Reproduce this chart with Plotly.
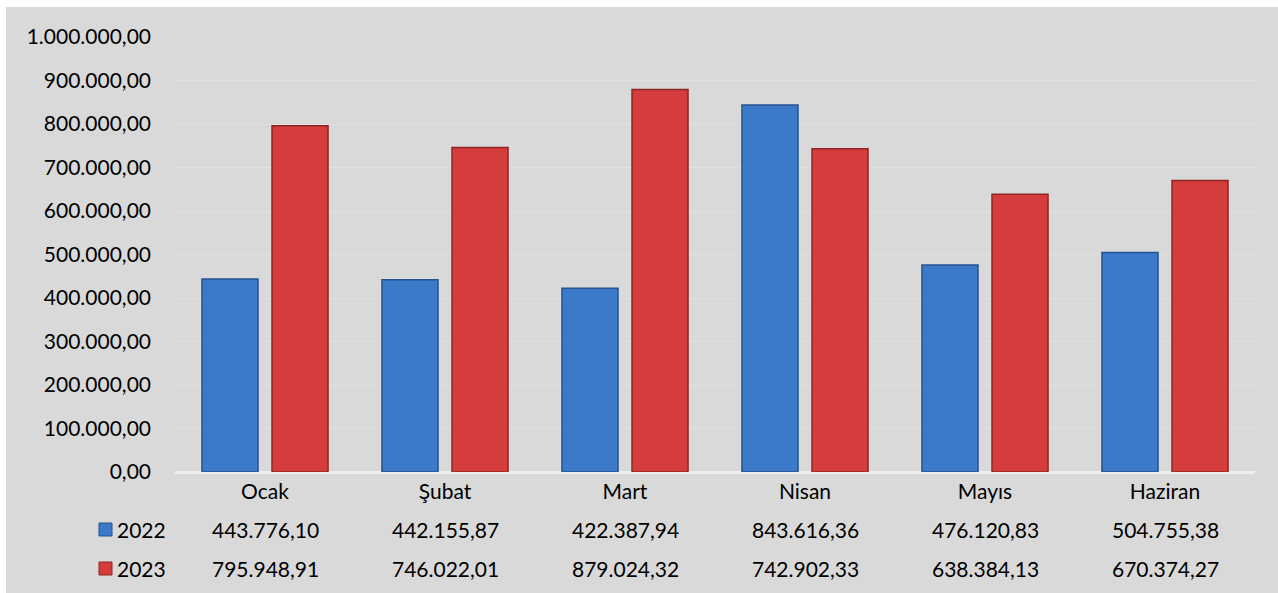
import plotly.graph_objects as go

months = ["Ocak", "Şubat", "Mart", "Nisan", "Mayıs", "Haziran"]
series_names = ["2022", "2023"]
values_2022 = [443776.10, 442155.87, 422387.94, 843616.36, 476120.83, 504755.38]
values_2023 = [795948.91, 746022.01, 879024.32, 742902.33, 638384.13, 670374.27]
y_ticks = [0, 100000, 200000, 300000, 400000, 500000, 600000, 700000, 800000, 900000, 1000000]

FONT = "Lato"
FS = 21
W, H = 1278, 593
L, R, T, B = 175, 23, 37, 121
PW, PH = W - L - R, H - T - B

def tr_fmt(v):
    s = f"{v:,.2f}"
    return s.replace(",", "X").replace(".", ",").replace("X", ".")

def px_x(px):
    return (px - L) / PW

def px_y(py):
    return (H - B - py) / PH

colors = {"2022": ("#3b79c9", "#26528f"), "2023": ("#d53d3d", "#902424")}

fig = go.Figure()
for name, vals in zip(series_names, [values_2022, values_2023]):
    fill, edge = colors[name]
    fig.add_trace(go.Bar(
        x=months, y=vals, name=name,
        marker=dict(color=fill, line=dict(color=edge, width=1.5)),
        showlegend=False, hoverinfo="x+y",
    ))

shapes = [
    dict(type="rect", xref="paper", yref="paper",
         x0=px_x(6), x1=px_x(1280), y0=px_y(595), y1=px_y(7),
         fillcolor="#d9d9d9", line=dict(width=0), layer="below"),
]
annotations = []
row_y = {"2022": 529, "2023": 568}
for name, vals in zip(series_names, [values_2022, values_2023]):
    fill, edge = colors[name]
    yc = row_y[name]
    shapes.append(dict(type="rect", xref="paper", yref="paper",
                       x0=px_x(99), x1=px_x(112), y0=px_y(yc + 7), y1=px_y(yc - 6),
                       fillcolor=fill, line=dict(color=edge, width=1)))
    annotations.append(dict(xref="paper", yref="paper", x=px_x(115), y=px_y(yc),
                            xanchor="left", yanchor="middle", showarrow=False,
                            text=name, font=dict(family=FONT, size=FS, color="#000")))
    for m, v in zip(months, vals):
        annotations.append(dict(xref="x", yref="paper", x=m, y=px_y(yc),
                                xanchor="center", yanchor="middle", showarrow=False,
                                text=tr_fmt(v), font=dict(family=FONT, size=FS, color="#000")))

fig.update_layout(
    width=W, height=H,
    margin=dict(l=L, r=R, t=T, b=B, autoexpand=False),
    paper_bgcolor="white", plot_bgcolor="rgba(0,0,0,0)",
    separators=",.",
    barmode="group", bargap=0.222, bargroupgap=0.2,
    font=dict(family=FONT, size=FS, color="#000"),
    shapes=shapes, annotations=annotations,
    xaxis=dict(showgrid=False, showline=False, zeroline=False, ticklabelstandoff=5,
               tickfont=dict(family=FONT, size=FS, color="#000"), ticks=""),
    yaxis=dict(range=[0, 1000000], tickvals=y_ticks, tickformat=",.2f",
               showgrid=True, gridcolor="#e0e0e0", gridwidth=1,
               zeroline=True, zerolinecolor="#eeeeee", zerolinewidth=2.5,
               showline=False, ticks="", ticklabelstandoff=23,
               tickfont=dict(family=FONT, size=FS, color="#000")),
)

fig.write_html("out.html", config={"displayModeBar": False},
               post_script="document.body.style.margin='0';document.body.style.overflow='hidden';")
